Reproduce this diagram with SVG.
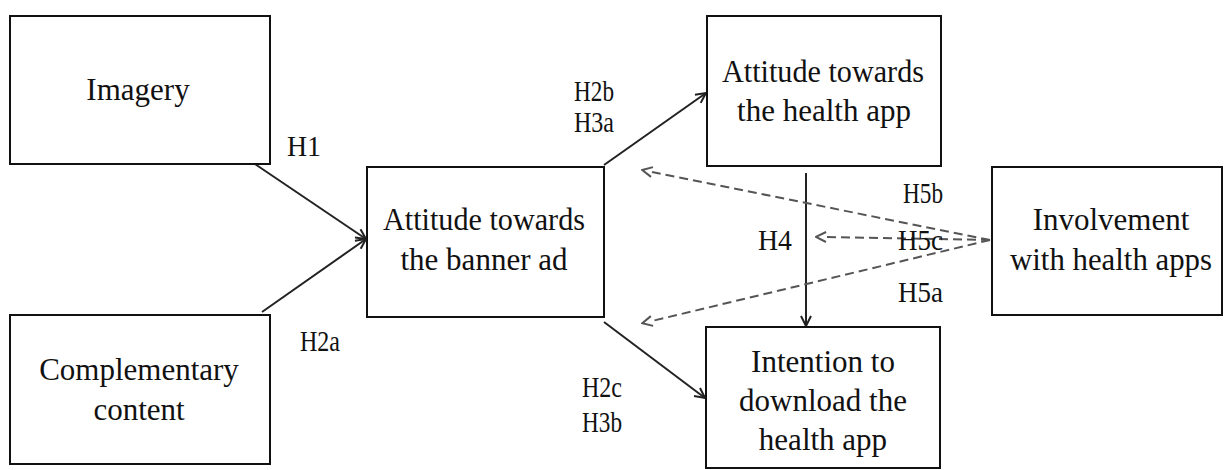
<svg xmlns="http://www.w3.org/2000/svg" width="1228" height="470" viewBox="0 0 1228 470">
  <style>
    .box { fill: #fff; stroke: #111; stroke-width: 2; }
    .nt { font-family: "Liberation Serif", "Times New Roman", serif; font-size: 31px; fill: #111; text-anchor: middle; }
    .lb { font-family: "Liberation Serif", "Times New Roman", serif; font-size: 29px; fill: #111; }
    .solid { stroke: #222; stroke-width: 2; fill: none; }
    .dash { stroke: #555; stroke-width: 2; fill: none; stroke-dasharray: 9 5; }
  </style>
  <defs>
    <marker id="arr" viewBox="0 0 12 12" refX="11" refY="6" markerWidth="12" markerHeight="12" markerUnits="userSpaceOnUse" orient="auto">
      <path d="M1,1 L11,6 L1,11" fill="none" stroke="#222" stroke-width="2"/>
    </marker>
    <marker id="arrd" viewBox="0 0 12 12" refX="1" refY="6" markerWidth="12" markerHeight="12" markerUnits="userSpaceOnUse" orient="auto">
      <path d="M1,1 L11,6 L1,11" fill="none" stroke="#555" stroke-width="2"/>
    </marker>
  </defs>

  <g id="connectors">
    <line class="solid" x1="252" y1="162" x2="366" y2="239" marker-end="url(#arr)"/>
    <line class="solid" x1="262" y1="312" x2="366" y2="239" marker-end="url(#arr)"/>
    <line class="solid" x1="604" y1="165" x2="706" y2="93" marker-end="url(#arr)"/>
    <line class="solid" x1="604" y1="322" x2="705" y2="398" marker-end="url(#arr)"/>
    <line class="solid" x1="806" y1="173" x2="806" y2="326" marker-end="url(#arr)"/>
    <line class="dash" x1="990" y1="240" x2="652" y2="172" marker-end="url(#arrd)"/>
    <line class="dash" x1="990" y1="240" x2="826" y2="237" marker-end="url(#arrd)"/>
    <line class="dash" x1="990" y1="240" x2="652" y2="321" marker-end="url(#arrd)"/>
  </g>

  <g id="labels">
    <text class="lb" x="287" y="156" textLength="34" lengthAdjust="spacingAndGlyphs">H1</text>
    <text class="lb" x="300" y="351" textLength="40" lengthAdjust="spacingAndGlyphs">H2a</text>
    <text class="lb" x="574" y="101" textLength="40" lengthAdjust="spacingAndGlyphs">H2b</text>
    <text class="lb" x="574" y="132" textLength="40" lengthAdjust="spacingAndGlyphs">H3a</text>
    <text class="lb" x="582" y="397" textLength="40" lengthAdjust="spacingAndGlyphs">H2c</text>
    <text class="lb" x="582" y="432" textLength="40" lengthAdjust="spacingAndGlyphs">H3b</text>
    <text class="lb" x="758" y="250" textLength="34" lengthAdjust="spacingAndGlyphs">H4</text>
    <text class="lb" x="903" y="203" textLength="40" lengthAdjust="spacingAndGlyphs">H5b</text>
    <text class="lb" x="898" y="250" textLength="45" lengthAdjust="spacingAndGlyphs">H5c</text>
    <text class="lb" x="898" y="302" textLength="45" lengthAdjust="spacingAndGlyphs">H5a</text>
  </g>

  <g id="imagery">
    <rect class="box" x="10" y="16" width="260" height="148"/>
    <text class="nt" x="138" y="100">Imagery</text>
  </g>
  <g id="complementary">
    <rect class="box" x="10" y="315" width="260" height="149"/>
    <text class="nt" x="139" y="380">Complementary</text>
    <text class="nt" x="139" y="420">content</text>
  </g>
  <g id="banner">
    <rect class="box" x="367" y="167" width="237" height="150"/>
    <text class="nt" x="484" y="230" textLength="202" lengthAdjust="spacingAndGlyphs">Attitude towards</text>
    <text class="nt" x="484" y="270">the banner ad</text>
  </g>
  <g id="healthapp">
    <rect class="box" x="707" y="16" width="234" height="150"/>
    <text class="nt" x="823" y="82" textLength="202" lengthAdjust="spacingAndGlyphs">Attitude towards</text>
    <text class="nt" x="824" y="121">the health app</text>
  </g>
  <g id="involvement">
    <rect class="box" x="992" y="167" width="230" height="148"/>
    <text class="nt" x="1111" y="230">Involvement</text>
    <text class="nt" x="1111" y="270" textLength="202" lengthAdjust="spacingAndGlyphs">with health apps</text>
  </g>
  <g id="intention">
    <rect class="box" x="706" y="327" width="234" height="141"/>
    <text class="nt" x="823" y="372">Intention to</text>
    <text class="nt" x="823" y="411">download the</text>
    <text class="nt" x="823" y="450">health app</text>
  </g>
</svg>
